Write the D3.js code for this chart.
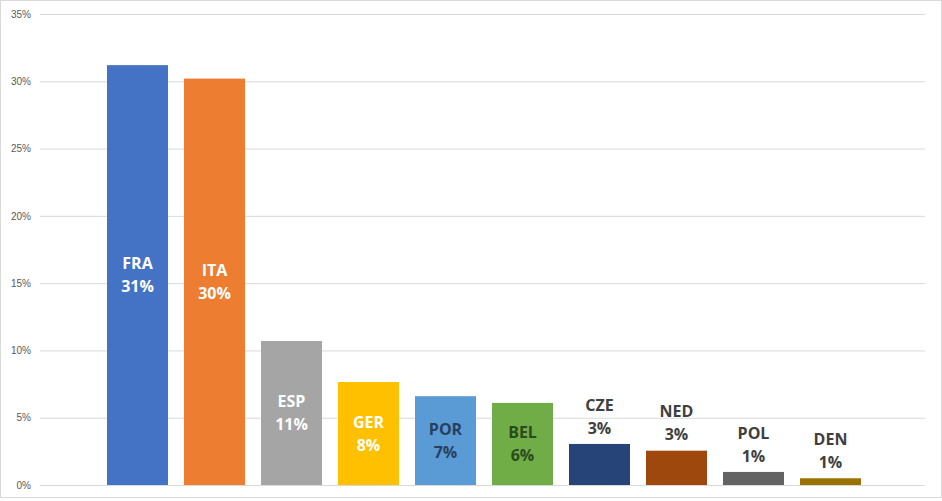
<!DOCTYPE html>
<html><head><meta charset="utf-8">
<script src="https://cdn.jsdelivr.net/npm/d3@7"></script>
<style>body{margin:0;background:#fff;}svg{display:block;}</style>
</head><body>
<svg id="c" width="942" height="501"></svg>
<script>
const categories = ["FRA","ITA","ESP","GER","POR","BEL","CZE","NED","POL","DEN"];
const values = [31.2, 30.2, 10.7, 7.65, 6.6, 6.1, 3.05, 2.55, 0.97, 0.5];
const colors = ["#4472C4","#ED7D31","#A5A5A5","#FFC000","#5B9BD5","#70AD47","#264478","#9E480E","#636363","#997300"];
const tickValues = [0,5,10,15,20,25,30,35];
const insideLabel = [true,true,true,true,true,true,false,false,false,false];
const labelColors = ["#fff","#fff","#fff","#fff","#26415e","#2b4a1e","#404040","#404040","#404040","#404040"];

const svg = d3.select("#c");
svg.append("rect").attr("x",0.5).attr("y",0.5).attr("width",941).attr("height",497)
  .attr("fill","#fff").attr("stroke","#d9d9d9");

const y = d3.scaleLinear().domain([0,35]).range([485,14]);
const x = d3.scaleBand().domain(categories).range([99,869]).paddingInner(0.208).paddingOuter(0.104);

const yAxis = d3.axisLeft(y).tickValues(tickValues).tickSize(-885).tickFormat(d=>d+"%");
const ga = svg.append("g").attr("transform","translate(40,0)").call(yAxis);
ga.select(".domain").remove();
ga.selectAll(".tick line").attr("stroke","#d9d9d9").attr("stroke-width",1);
ga.selectAll(".tick text").attr("x",-9).attr("fill","#595959")
  .style("font-family","'Liberation Sans', Arial, sans-serif").style("font-size","10px");

svg.append("g").selectAll("rect").data(categories).join("rect")
  .attr("x",d=>x(d)).attr("width",x.bandwidth())
  .attr("y",(d,i)=>y(values[i])).attr("height",(d,i)=>y(0)-y(values[i]))
  .attr("fill",(d,i)=>colors[i]);

const lg = svg.append("g").style("font-family","'Open Sans', 'Liberation Sans', sans-serif")
  .style("font-weight","bold").style("font-size","16px");
categories.forEach((c,i)=>{
  const cx = x(c)+x.bandwidth()/2;
  let y1, y2;
  if (insideLabel[i]) {
    const mid = (y(values[i])+y(0))/2;
    y1 = mid-11.5; y2 = mid+11.5;
  } else {
    y2 = y(values[i])-16; y1 = y2-23;
  }
  [[c,y1],[Math.round(values[i])+"%",y2]].forEach(([t,yy])=>{
    lg.append("text").attr("x",cx).attr("y",yy).attr("dy","0.35em")
      .attr("text-anchor","middle").attr("fill",labelColors[i]).text(t);
  });
});
</script>
</body></html>
